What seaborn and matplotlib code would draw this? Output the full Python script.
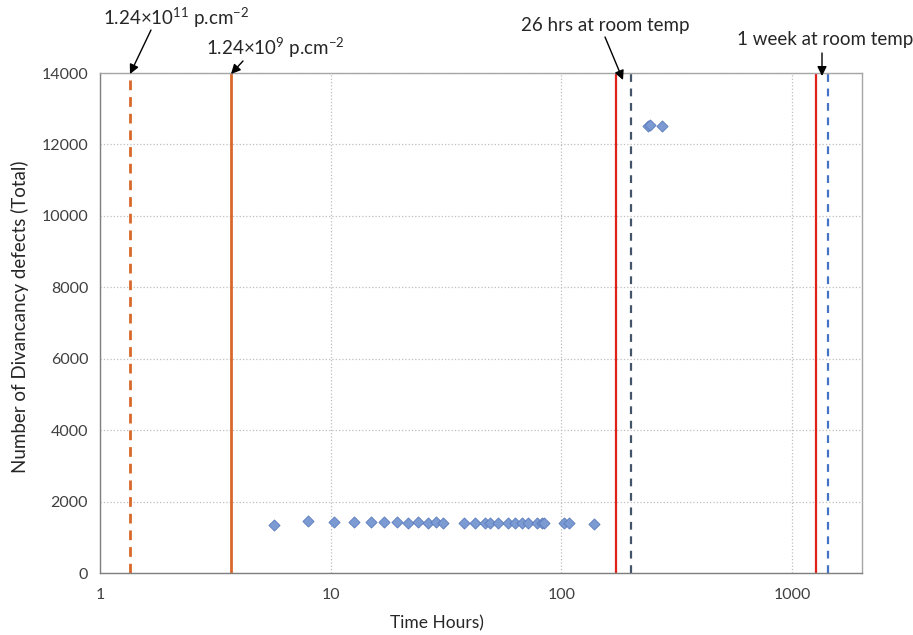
import numpy as np
import pandas as pd
import matplotlib
matplotlib.use('Agg')
import matplotlib.pyplot as plt
import seaborn as sns

# data
time_low = [5.7, 8.0, 10.3, 12.6, 14.9, 17.0, 19.3, 21.7, 24.0, 26.3, 28.5, 30.8,
            37.8, 42.2, 46.7, 48.9, 53.3, 58.9, 62.8, 67.3, 71.9, 78.2, 82.2, 84.1,
            102.8, 108.0, 138.6]
defects_low = [1345, 1465, 1440, 1435, 1420, 1435, 1420, 1410, 1420, 1410, 1420, 1410,
               1410, 1390, 1390, 1410, 1390, 1410, 1390, 1390, 1390, 1390, 1390, 1410,
               1390, 1405, 1360]
time_high = [236, 243, 273]
defects_high = [12520, 12540, 12525]

# vertical marker lines (time in hours)
fluence_high_t = 1.35
fluence_low_t = 3.70
room26_red_t = 172.7
room26_blue_t = 200.5
week_red_t = 1271
week_blue_t = 1432

x_ticks = [1, 10, 100, 1000]
y_ticks = list(range(0, 14001, 2000))

sns.set_style('white')
plt.rcParams['font.family'] = ['Lato', 'DejaVu Sans']
plt.rcParams['mathtext.fontset'] = 'custom'
plt.rcParams['mathtext.rm'] = 'Lato'
plt.rcParams['mathtext.it'] = 'Lato:italic'
plt.rcParams['mathtext.bf'] = 'Lato:bold'

df = pd.DataFrame({
    'time': time_low + time_high,
    'defects': defects_low + defects_high,
})

fig = plt.figure(figsize=(9.13, 6.35), dpi=100)
ax = fig.add_axes([0.1095, 0.0976, 0.8343, 0.7874])

# vertical reference lines
ax.axvline(fluence_high_t, color='#D8692A', lw=2, ls=(0, (3.5, 2.5)), zorder=2)
ax.axvline(fluence_low_t, color='#D8692A', lw=2, zorder=2)
ax.axvline(room26_red_t, color='#E0201B', lw=1.6, zorder=2)
ax.axvline(room26_blue_t, color='#44546A', lw=1.6, ls=(0, (3.5, 3)), zorder=2)
ax.axvline(week_red_t, color='#E0201B', lw=1.6, zorder=2)
ax.axvline(week_blue_t, color='#4472C4', lw=1.6, ls=(0, (3.5, 3)), zorder=2)

sns.scatterplot(data=df, x='time', y='defects', marker='D', s=32,
                color='#7C9BD3', edgecolor='#5A7BBE', linewidth=0.6, ax=ax, zorder=3)

ax.set_xscale('log')
ax.set_xlim(1, 2000)
ax.set_ylim(0, 14000)
ax.set_xticks(x_ticks)
ax.set_xticklabels([str(t) for t in x_ticks])
ax.xaxis.set_minor_locator(matplotlib.ticker.NullLocator())
ax.set_yticks(y_ticks)
ax.set_yticklabels([str(t) for t in y_ticks])

ax.grid(True, which='major', color='#BFBFBF', ls=':', lw=0.9)
ax.set_axisbelow(True)
for side in ['left', 'bottom']:
    ax.spines[side].set_color('#7F7F7F')
    ax.spines[side].set_linewidth(1.0)
for side in ['top', 'right']:
    ax.spines[side].set_color('#A6A6A6')
    ax.spines[side].set_linewidth(1.0)

ax.tick_params(axis='both', direction='out', length=5, width=0.8, color='#7F7F7F',
               labelsize=11.5, labelcolor='#404040')
ax.tick_params(axis='x', pad=6)

ax.set_xlabel('Time Hours)', fontsize=12.5, color='#262626')
ax.xaxis.set_label_coords(0.442, -0.085)
ax.set_ylabel('Number of Divancancy defects (Total)', fontsize=13.5, color='#262626')
ax.yaxis.set_label_coords(-0.093, 0.512)

# annotations above the plot (figure pixel coordinates, origin bottom-left)
H = 635
arrow = dict(arrowstyle='-|>', color='black', lw=1.0, mutation_scale=14, shrinkA=0, shrinkB=0)

fig.text(176 / 913, 1 - 18 / H, r'1.24×10$^{11}$ p.cm$^{-2}$', ha='center', va='center', fontsize=13.5)
ax.annotate('', xy=(130, H - 74), xycoords='figure pixels',
            xytext=(151, H - 30), textcoords='figure pixels', arrowprops=arrow)

fig.text(275 / 913, 1 - 48 / H, r'1.24×10$^{9}$ p.cm$^{-2}$', ha='center', va='center', fontsize=13.5)
ax.annotate('', xy=(231, H - 74), xycoords='figure pixels',
            xytext=(243, H - 61), textcoords='figure pixels', arrowprops=arrow)

fig.text(605 / 913, 1 - 25 / H, '26 hrs at room temp', ha='center', va='center', fontsize=13.5)
ax.annotate('', xy=(623, H - 80), xycoords='figure pixels',
            xytext=(605, H - 37), textcoords='figure pixels', arrowprops=arrow)

fig.text(825 / 913, 1 - 40 / H, '1 week at room temp', ha='center', va='center', fontsize=13.5)
ax.annotate('', xy=(822, H - 76), xycoords='figure pixels',
            xytext=(822, H - 53), textcoords='figure pixels', arrowprops=arrow)

fig.savefig('out.png', dpi=100)
